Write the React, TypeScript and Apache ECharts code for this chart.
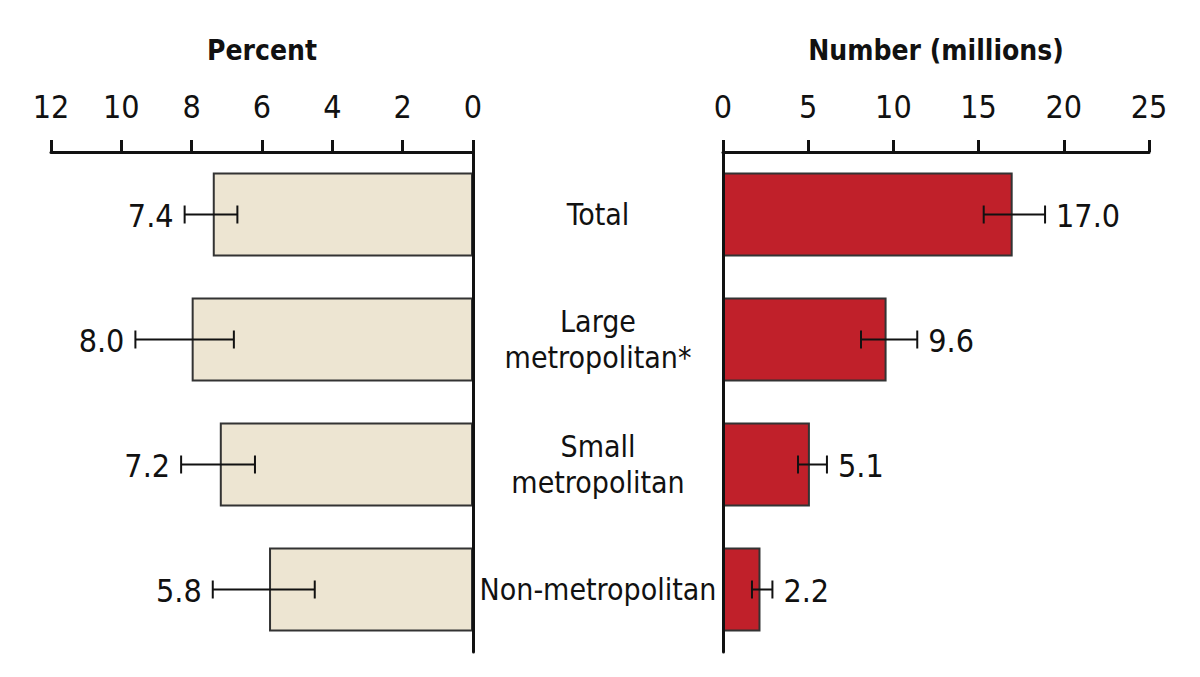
import React, { useEffect, useRef } from "react";
import * as echarts from "echarts";

const categories = ["Total", "Large\nmetropolitan*", "Small\nmetropolitan", "Non-metropolitan"];
const percentValues = [7.4, 8.0, 7.2, 5.8];
const percentLow = [6.7, 6.8, 6.2, 4.5];
const percentHigh = [8.2, 9.6, 8.3, 7.4];
const numberValues = [17.0, 9.6, 5.1, 2.2];
const numberLow = [15.3, 8.1, 4.4, 1.7];
const numberHigh = [18.9, 11.4, 6.1, 2.9];

const FONT = '"Liberation Sans Narrow", "DejaVu Sans Condensed", "Roboto", sans-serif';
const FS = 32;

function errorRender(side: "left" | "right") {
  return (params: any, api: any) => {
    const cat = api.value(0);
    const low = api.value(2);
    const high = api.value(3);
    const val = api.value(1);
    const pLow = api.coord([low, cat]);
    const pHigh = api.coord([high, cat]);
    const y = pLow[1];
    const cap = 9;
    const lineStyle = { stroke: "#111", lineWidth: 2 };
    const tx = side === "left" ? pHigh[0] - 11 : pHigh[0] + 11;
    return {
      type: "group",
      children: [
        { type: "line", shape: { x1: pLow[0], y1: y, x2: pHigh[0], y2: y }, style: lineStyle },
        { type: "line", shape: { x1: pLow[0], y1: y - cap, x2: pLow[0], y2: y + cap }, style: lineStyle },
        { type: "line", shape: { x1: pHigh[0], y1: y - cap, x2: pHigh[0], y2: y + cap }, style: lineStyle },
        {
          type: "text",
          style: {
            text: Number(val).toFixed(1),
            x: tx,
            y: y + 1,
            align: side === "left" ? "right" : "left",
            verticalAlign: "middle",
            fontSize: FS,
            fontFamily: FONT,
            fill: "#111",
          },
        },
      ],
    };
  };
}

export default function App() {
  const ref = useRef<HTMLDivElement>(null);
  useEffect(() => {
    if (!ref.current) return;
    const chart = echarts.init(ref.current, undefined, { renderer: "svg" });
    const axisLineStyle = { color: "#111", width: 3 };
    const xCommon = {
      type: "value",
      position: "top",
      nameLocation: "middle",
      nameGap: 88,
      nameTextStyle: { fontSize: 28, fontFamily: FONT, color: "#111", fontWeight: "bold" },
      axisLine: { show: true, lineStyle: axisLineStyle },
      axisTick: { show: true, length: 12, lineStyle: axisLineStyle },
      axisLabel: { fontSize: FS, fontFamily: FONT, color: "#111", margin: 29 },
      splitLine: { show: false },
      z: 10,
    };
    chart.setOption({
      animation: false,
      backgroundColor: "#fff",
      grid: [
        { left: 51, right: 727, top: 152, bottom: 25 },
        { left: 723, right: 51, top: 152, bottom: 25 },
      ],
      xAxis: [
        { ...xCommon, gridIndex: 0, name: "Percent", min: 0, max: 12, interval: 2, inverse: true },
        { ...xCommon, gridIndex: 1, name: "Number (millions)", min: 0, max: 25, interval: 5 },
      ],
      yAxis: [
        {
          type: "category",
          gridIndex: 0,
          data: categories,
          inverse: true,
          position: "right",
          axisLine: { show: true, lineStyle: axisLineStyle },
          axisTick: { show: false },
          axisLabel: { show: false },
          z: 10,
        },
        {
          type: "category",
          gridIndex: 1,
          data: categories,
          inverse: true,
          position: "left",
          axisLine: { show: true, lineStyle: axisLineStyle },
          axisTick: { show: false },
          axisLabel: {
            show: true,
            fontSize: 30,
            fontFamily: FONT,
            color: "#111",
            align: "center",
            margin: 125,
            lineHeight: 36,
          },
          z: 10,
        },
      ],
      series: [
        {
          type: "bar",
          xAxisIndex: 0,
          yAxisIndex: 0,
          data: percentValues,
          barWidth: 84,
          itemStyle: { color: "#EDE5D2", borderColor: "#333", borderWidth: 2 },
        },
        {
          type: "bar",
          xAxisIndex: 1,
          yAxisIndex: 1,
          data: numberValues,
          barWidth: 84,
          itemStyle: { color: "#C0202A", borderColor: "#333", borderWidth: 2 },
        },
        {
          type: "custom",
          xAxisIndex: 0,
          yAxisIndex: 0,
          renderItem: errorRender("left"),
          encode: { x: [2, 3], y: 0 },
          data: categories.map((_, i) => [i, percentValues[i], percentLow[i], percentHigh[i]]),
          z: 5,
        },
        {
          type: "custom",
          xAxisIndex: 1,
          yAxisIndex: 1,
          renderItem: errorRender("right"),
          encode: { x: [2, 3], y: 0 },
          data: categories.map((_, i) => [i, numberValues[i], numberLow[i], numberHigh[i]]),
          z: 5,
        },
      ],
    });
    return () => chart.dispose();
  }, []);
  return (
    <div
      ref={ref}
      style={{ position: "fixed", left: 0, top: 0, width: 1200, height: 677 }}
    />
  );
}
